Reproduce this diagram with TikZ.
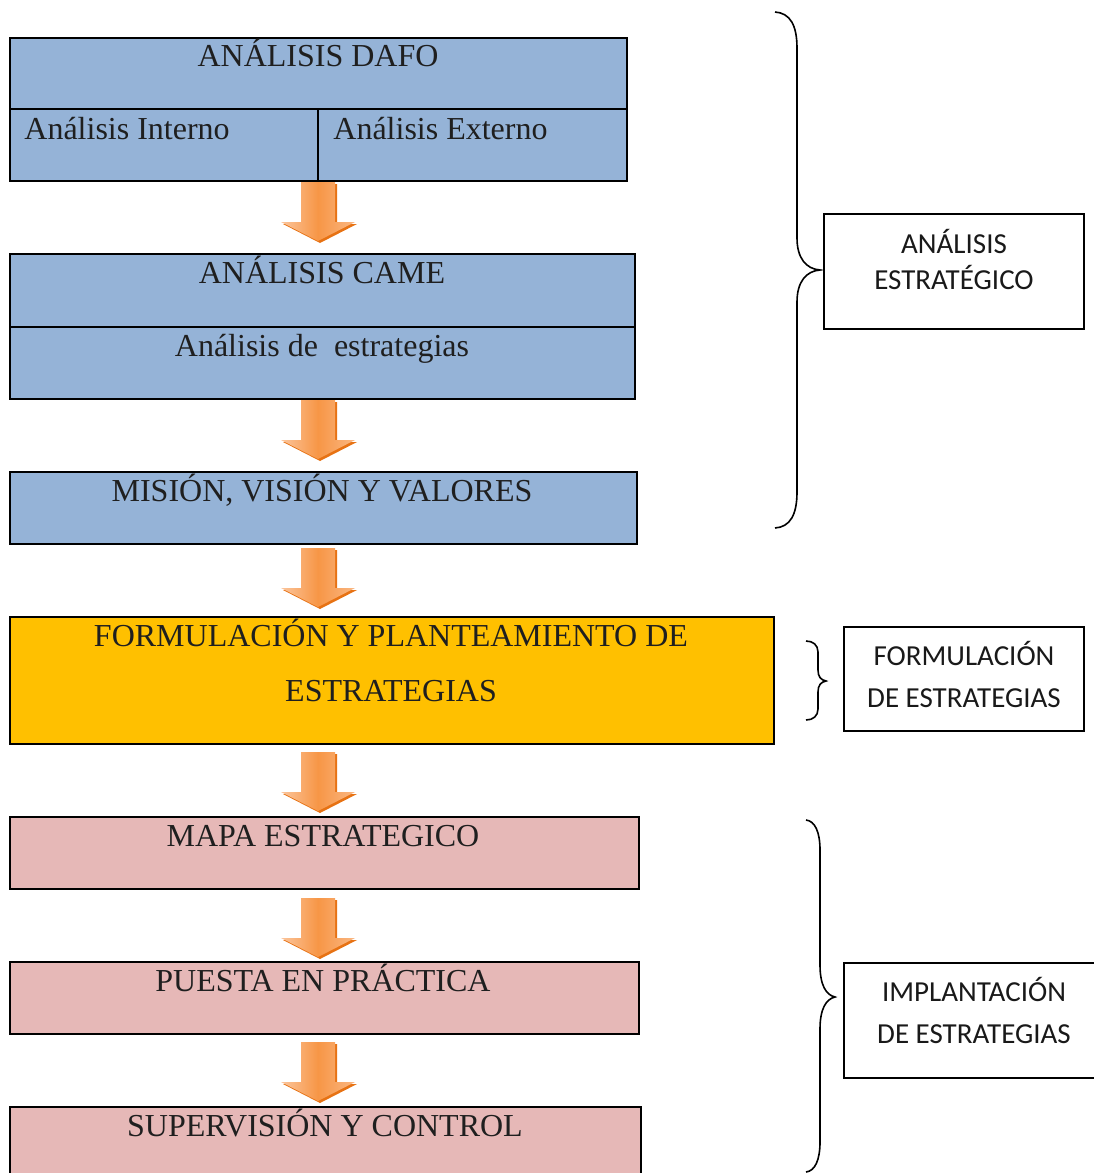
\documentclass[tikz,border=0pt]{standalone}
\usepackage{fontspec}
\setmainfont{Liberation Serif}
\newfontfamily\calibrifont{Carlito}
\usetikzlibrary{fit}
\definecolor{boxblue}{HTML}{95B3D7}
\definecolor{boxgold}{HTML}{FFC000}
\definecolor{boxpink}{HTML}{E6B8B7}
\definecolor{arrlight}{HTML}{FBC59C}
\definecolor{arrmid}{HTML}{F79646}
\definecolor{arrdark}{HTML}{E46C0A}
\tikzset{
  box/.style={draw=black, line width=1pt, inner sep=0pt, rectangle},
  boxtext/.style={font=\fontsize{16pt}{19pt}\selectfont, anchor=base, inner sep=0pt, text=black!88},
  sidetext/.style={font=\calibrifont\fontsize{14.5pt}{17pt}\selectfont, anchor=base, inner sep=0pt, text=black!90},
  sidebox/.style={draw=black, line width=0.7pt},
  bracestyle/.style={draw=black, line width=0.8pt},
}
\newcommand\flowarrow[1]{%
  \begin{scope}[shift={(0,#1)}]
    \fill[arrdark!85!arrmid] (303,2) -- (337,2) -- (337,42) -- (357,42) -- (320,61) -- (283,42) -- (303,42) -- cycle;
    \shade[left color=arrlight, right color=arrlight!70!arrmid, middle color=arrmid]
      (301,0) -- (335,0) -- (335,40) -- (355,40) -- (318,59) -- (281,40) -- (301,40) -- cycle;
  \end{scope}}
\begin{document}
\begin{tikzpicture}[x=0.5pt, y=-0.5pt]
\useasboundingbox (0,0) rectangle (1093,1173);

% DAFO
\node[box, fill=boxblue, fit={(10,38) (627,181)}] (dafo) {};
\draw[line width=1pt] (10,109) -- (627,109);
\draw[line width=1pt] (318,109) -- (318,181);
\node[boxtext] (dafoT) at (318,66) {ANÁLISIS DAFO};
\node[boxtext, anchor=base west] (intT) at (24,139) {Análisis Interno};
\node[boxtext, anchor=base west] (extT) at (333,139) {Análisis Externo};

% CAME
\node[box, fill=boxblue, fit={(10,254) (635,399)}] (came) {};
\draw[line width=1pt] (10,327) -- (635,327);
\node[boxtext] (cameT) at (322,283) {ANÁLISIS CAME};
\node[boxtext] (estT) at (322,356) {Análisis de\ \ estrategias};

% MISION
\node[box, fill=boxblue, fit={(10,472) (637,544)}] (mision) {};
\node[boxtext] (misionT) at (322,501) {MISIÓN, VISIÓN Y VALORES};

% FORMULACION
\node[box, fill=boxgold, fit={(10,617) (774,744)}] (formul) {};
\node[boxtext] (formT1) at (391,646) {FORMULACIÓN Y PLANTEAMIENTO DE};
\node[boxtext] (formT2) at (391,701) {ESTRATEGIAS};

% MAPA
\node[box, fill=boxpink, fit={(10,817) (639,889)}] (mapa) {};
\node[boxtext] (mapaT) at (323,846) {MAPA ESTRATEGICO};

% PUESTA
\node[box, fill=boxpink, fit={(10,962) (639,1034)}] (puesta) {};
\node[boxtext] (puestaT) at (323,991) {PUESTA EN PRÁCTICA};

% SUPERVISION
\node[fill=boxpink, inner sep=0pt, fit={(10,1107) (641,1173)}] (superv) {};
\draw[line width=1pt] (10,1175) -- (10,1107) -- (641,1107) -- (641,1175);
\node[boxtext] (supervT) at (325,1136) {SUPERVISIÓN Y CONTROL};

% arrows
\flowarrow{182}
\flowarrow{400}
\flowarrow{548}
\flowarrow{752}
\flowarrow{898}
\flowarrow{1042}

% brace 1
\draw[bracestyle] (775,12) .. controls (790,13) and (797,25) .. (797,48) -- (797,238)
  .. controls (797,258) and (806,269) .. (820,270)
  .. controls (806,271) and (797,282) .. (797,302) -- (797,492)
  .. controls (797,515) and (790,527) .. (775,528);
\node[sidebox, fit={(824,214) (1084,329)}, inner sep=0pt] (anbox) {};
\node[sidetext] (anT1) at (954,253) {ANÁLISIS};
\node[sidetext] (anT2) at (954,289) {ESTRATÉGICO};

% brace 2
\draw[bracestyle] (806,641) .. controls (813,641) and (818,645) .. (818,652) -- (818,670)
  .. controls (818,677) and (821,680) .. (826,681)
  .. controls (821,682) and (818,685) .. (818,692) -- (818,709)
  .. controls (818,716) and (813,720) .. (806,720);
\node[sidebox, fit={(844,627) (1084,731)}, inner sep=0pt] (fobox) {};
\node[sidetext] (foT1) at (964,665) {FORMULACIÓN};
\node[sidetext] (foT2) at (964,707) {DE ESTRATEGIAS};

% brace 3
\draw[bracestyle] (806,820) .. controls (815,821) and (820,832) .. (820,850) -- (820,965)
  .. controls (820,985) and (826,995) .. (835,997)
  .. controls (826,999) and (820,1009) .. (820,1029) -- (820,1142)
  .. controls (820,1160) and (815,1171) .. (806,1172);
\coordinate (imR1) at (1095,963);
\coordinate (imR2) at (1095,1078);
\node[inner sep=0pt, fit={(844,963) (1093,1078)}] (imbox) {};
\draw[sidebox] (imR1) -- (844,963) -- (844,1078) -- (imR2);
\node[sidetext] (imT1) at (974,1001) {IMPLANTACIÓN};
\node[sidetext] (imT2) at (974,1043) {DE ESTRATEGIAS};
\end{tikzpicture}
\end{document}
